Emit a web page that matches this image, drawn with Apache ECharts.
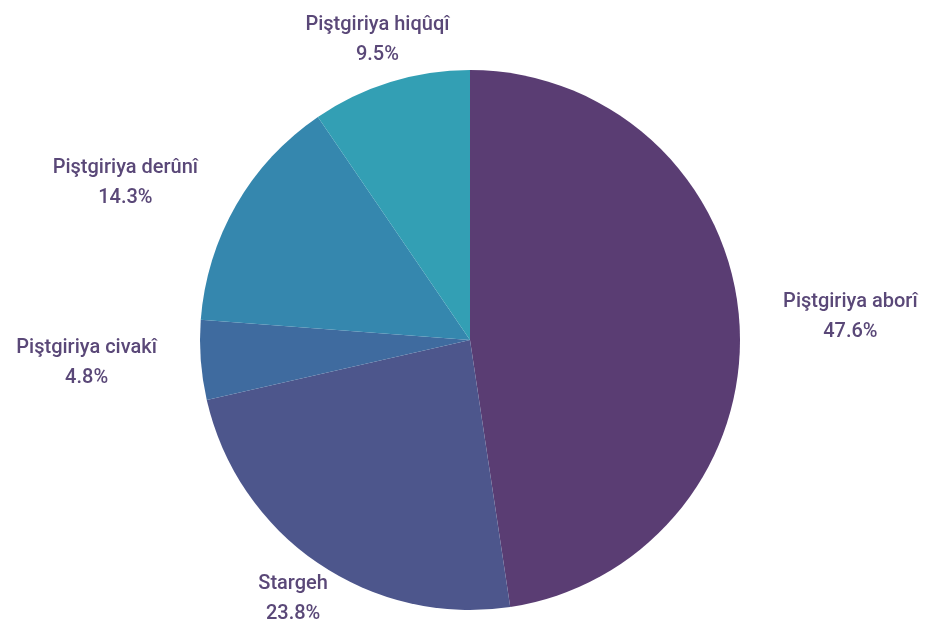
<!DOCTYPE html>
<html>
<head>
<meta charset="utf-8">
<script src="https://cdn.jsdelivr.net/npm/echarts@6/dist/echarts.min.js"></script>
<style>
  html, body { margin: 0; padding: 0; background: #fff; }
  #main { width: 927px; height: 626px; }
</style>
</head>
<body>
<div id="main"></div>
<script>
// data
var categories = ['Piştgiriya aborî', 'Stargeh', 'Piştgiriya civakî', 'Piştgiriya derûnî', 'Piştgiriya hiqûqî'];
var counts = [10, 5, 1, 3, 2];
var colors = ['#5a3d73', '#4d568c', '#3f6b9f', '#3587ae', '#339fb4'];

var cx = 470, cy = 340, R = 270;
var total = counts.reduce(function (a, b) { return a + b; }, 0);

function midAngle(i) {
  var before = 0;
  for (var k = 0; k < i; k++) before += counts[k];
  var mid = before + counts[i] / 2;
  return (90 - mid / total * 360) * Math.PI / 180;
}

var chart = echarts.init(document.getElementById('main'));
chart.setOption({
  color: colors,
  animation: false,
  series: [{
    type: 'pie',
    center: [cx, cy],
    radius: R,
    startAngle: 90,
    clockwise: true,
    percentPrecision: 1,
    avoidLabelOverlap: false,
    data: categories.map(function (c, i) { return { name: c, value: counts[i] }; }),
    label: {
      show: true,
      position: 'outside',
      formatter: '{b}\n{d}%',
      color: '#5a4878',
      fontFamily: 'Roboto',
      fontWeight: 500,
      fontSize: 20,
      lineHeight: 30,
      align: 'center'
    },
    labelLine: { show: false },
    labelLayout: function (params) {
      // anchor just outside the slice edge, side labels pushed out by half their width
      var a = midAngle(params.dataIndex);
      var c = Math.cos(a), s = Math.sin(a);
      var w = params.labelRect.width;
      var x = cx + (R + 44) * c;
      var y = cy - (R + 44) * s;
      if (Math.abs(c) > 0.7) x += (c > 0 ? 1 : -1) * w / 2;
      return { x: x, y: y, align: 'center', verticalAlign: 'middle' };
    }
  }]
});
</script>
</body>
</html>
